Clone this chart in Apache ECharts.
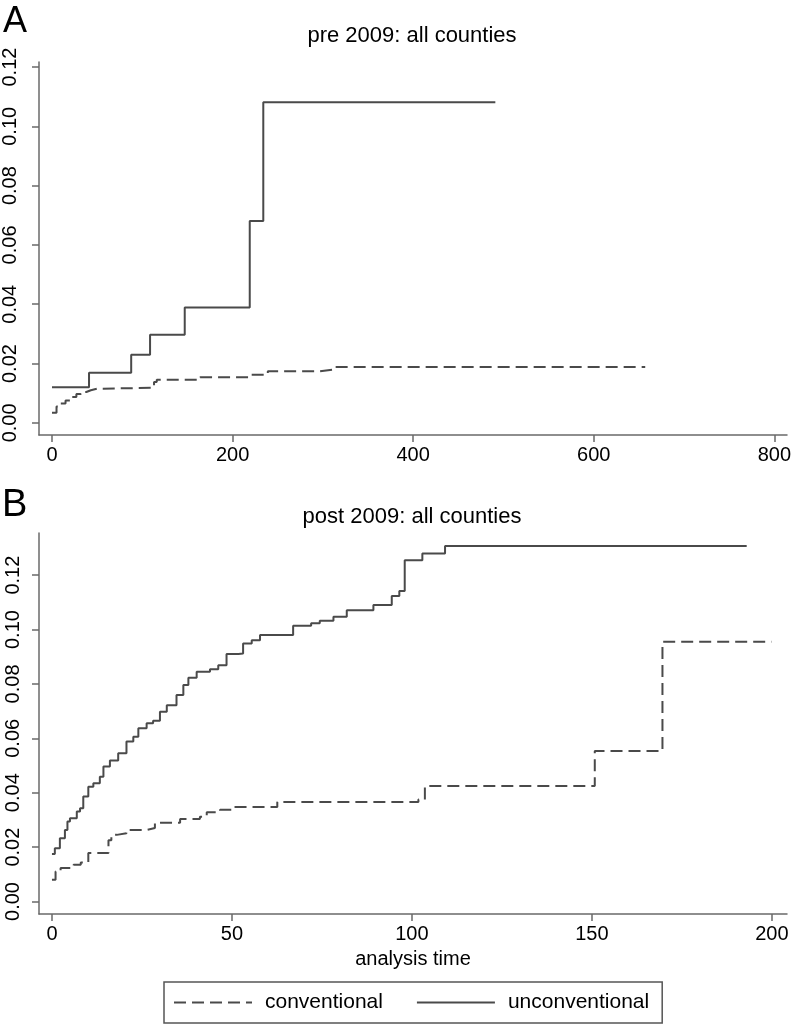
<!DOCTYPE html>
<html>
<head>
<meta charset="utf-8">
<script src="https://cdn.jsdelivr.net/npm/echarts@6/dist/echarts.min.js"></script>
<style>
html, body { margin: 0; padding: 0; background: #fff; }
#chart { width: 794px; height: 1026px; }
</style>
</head>
<body>
<div id="chart"></div>
<script>
// panel A (pre 2009): failure estimates, step changes at each time
const preConvTime = [0, 5, 9, 15, 20, 27, 32, 38, 43, 50, 110, 113, 116, 164, 219, 239, 296, 313, 657]
const preConvRisk = [0.0034, 0.0055, 0.0065, 0.0075, 0.0087, 0.0097, 0.0104, 0.011, 0.0115, 0.0118, 0.0127, 0.0138, 0.0145, 0.0154, 0.0162, 0.0174, 0.018, 0.0188, 0.0188]
const preUnconvTime = [0, 41, 87.7, 108.6, 147, 219, 234, 491]
const preUnconvRisk = [0.012, 0.0169, 0.023, 0.0297, 0.0389, 0.0681, 0.1081, 0.1081]

// panel B (post 2009)
const postConvTime = [0, 1, 2.4, 6, 8, 10.1, 15.7, 16.5, 18, 20.7, 26.3, 28.6, 35.6, 41.1, 43, 46.7, 50.4, 62.6, 101.8, 103.6, 150.8, 169.6, 199.9]
const postConvRisk = [0.008, 0.011, 0.0123, 0.0135, 0.0143, 0.0178, 0.0225, 0.0245, 0.0251, 0.0263, 0.027, 0.029, 0.0303, 0.0312, 0.0328, 0.0337, 0.0347, 0.0366, 0.0375, 0.0425, 0.0553, 0.0955, 0.0955]
const postUnconvTime = [0, 0.8, 2.2, 3.6, 4.3, 5, 6.9, 7.8, 8.7, 10.1, 11.5, 13.3, 14.3, 16.1, 18.4, 20.7, 22.6, 24, 26.3, 28.1, 30, 31.9, 34.6, 36.5, 37.9, 40.2, 43.9, 46.2, 48.5, 51.8, 53.1, 55.5, 57.8, 67, 72, 74.4, 78.2, 81.9, 89.3, 94.4, 96.5, 98, 102.9, 109.2, 193]
const postUnconvRisk = [0.0175, 0.0196, 0.0233, 0.0263, 0.0294, 0.0306, 0.0331, 0.0343, 0.0386, 0.0422, 0.0435, 0.0459, 0.0496, 0.0518, 0.0545, 0.0588, 0.0606, 0.0637, 0.0655, 0.0665, 0.0698, 0.0722, 0.0759, 0.0796, 0.0823, 0.0845, 0.0854, 0.0869, 0.091, 0.0912, 0.0949, 0.0961, 0.098, 0.1014, 0.1023, 0.1032, 0.1047, 0.1071, 0.109, 0.1123, 0.1142, 0.1255, 0.128, 0.1307, 0.1307]

const riskTicks = [0, 0.02, 0.04, 0.06, 0.08, 0.1, 0.12]
const preTimeTicks = [0, 200, 400, 600, 800]
const postTimeTicks = [0, 50, 100, 150, 200]

const zip = (a, b) => a.map((t, i) => [t, b[i]])

const lineCol = '#4a4a4a'
const axisCol = '#6a6a6a'
const font = 'Liberation Sans, Arial, sans-serif'

function xAxisFor(grid, ticks, min, max, name) {
  return {
    type: 'value', gridIndex: grid, min: min, max: max,
    splitLine: { show: false },
    axisLine: { onZero: false, lineStyle: { color: axisCol, width: 1.5 } },
    axisTick: { length: 7, customValues: ticks, lineStyle: { color: axisCol, width: 1.5 } },
    axisLabel: { customValues: ticks, color: '#000', fontSize: 20, fontFamily: font, margin: 10 },
    name: name || '', nameLocation: 'middle', nameGap: 35,
    nameTextStyle: { color: '#000', fontSize: 20, fontFamily: font }
  }
}

function yAxisFor(grid, min, max, margin) {
  return {
    type: 'value', gridIndex: grid, min: min, max: max,
    splitLine: { show: false },
    axisLine: { show: true, onZero: false, lineStyle: { color: axisCol, width: 1.5 } },
    axisTick: { show: true, length: 7, customValues: riskTicks, lineStyle: { color: axisCol, width: 1.5 } },
    axisLabel: {
      customValues: riskTicks, rotate: 90, color: '#000', fontSize: 20, fontFamily: font, margin: margin,
      formatter: v => v.toFixed(2)
    }
  }
}

function stepSeries(name, x, y, data, dashed) {
  return {
    name: name, type: 'line', step: 'end', xAxisIndex: x, yAxisIndex: y,
    symbol: 'none', data: data,
    lineStyle: { color: lineCol, width: 2, type: dashed ? [12, 6] : 'solid' },
    itemStyle: { color: lineCol }
  }
}

const chart = echarts.init(document.getElementById('chart'))
chart.setOption({
  animation: false,
  backgroundColor: '#fff',
  grid: [
    { left: 37, right: 7, top: 62, height: 373 },
    { left: 39, right: 7, top: 533, height: 381 }
  ],
  xAxis: [
    xAxisFor(0, preTimeTicks, -14.4, 814),
    xAxisFor(1, postTimeTicks, -3.6, 204.2, 'analysis time')
  ],
  yAxis: [
    yAxisFor(0, -0.0041, 0.1217, 19),
    yAxisFor(1, -0.0046, 0.1355, 16)
  ],
  graphic: [
    { type: 'text', x: 3, y: 4, style: { text: 'A', font: '36px ' + font, fill: '#000' } },
    { type: 'text', x: 2, y: 487, style: { text: 'B', font: '38px ' + font, fill: '#000' } },
    { type: 'text', x: 412, y: 25, style: { text: 'pre 2009: all counties', font: '22px ' + font, fill: '#000', textAlign: 'center' } },
    { type: 'text', x: 412, y: 506, style: { text: 'post 2009: all counties', font: '22px ' + font, fill: '#000', textAlign: 'center' } }
  ],
  legend: {
    data: ['conventional', 'unconventional'],
    left: 164, top: 982,
    orient: 'horizontal',
    itemWidth: 78, itemHeight: 14, itemGap: 33,
    borderColor: '#555', borderWidth: 1.5, borderRadius: 0,
    padding: [10, 13, 10, 9],
    selectedMode: false,
    itemStyle: { color: 'rgba(0,0,0,0)', borderWidth: 0, opacity: 0 },
    textStyle: { color: '#000', fontSize: 21, fontFamily: font, padding: [0, 0, 0, 8] }
  },
  series: [
    stepSeries('conventional', 0, 0, zip(preConvTime, preConvRisk), true),
    stepSeries('unconventional', 0, 0, zip(preUnconvTime, preUnconvRisk), false),
    stepSeries('conventional', 1, 1, zip(postConvTime, postConvRisk), true),
    stepSeries('unconventional', 1, 1, zip(postUnconvTime, postUnconvRisk), false)
  ]
})
</script>
</body>
</html>
